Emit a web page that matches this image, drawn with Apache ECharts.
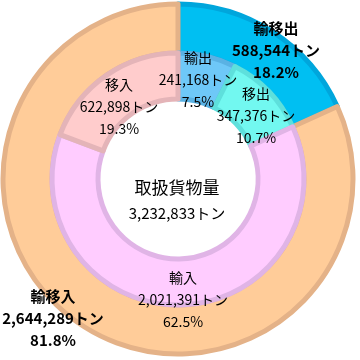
<!DOCTYPE html>
<html>
<head>
<meta charset="utf-8">
<script src="https://cdn.jsdelivr.net/npm/echarts@6/dist/echarts.min.js"></script>
<style>html,body{margin:0;padding:0;background:#fff;}#c{width:360px;height:360px;}</style>
</head>
<body>
<div id="c"></div>
<script>
var outerNames = ['輸移出', '輸移入'];
var outerValues = [588544, 2644289];
var outerPct = ['18.2%', '81.8%'];
var innerNames = ['輸出', '移出', '輸入', '移入'];
var innerValues = [241168, 347376, 2021391, 622898];
var innerPct = ['7.5%', '10.7%', '62.5%', '19.3%'];
var centerTitle = '取扱貨物量';
var totalValue = 3232833;
var unit = 'トン';

var FONT = '"Noto Sans CJK JP", "Noto Sans", sans-serif';
var outerColors = [['#00bff2', '#00a6dc'], ['#ffcc99', '#e4b288']];
var innerColors = [['#6ec8f8', '#5ab2e4'], ['#72f8f0', '#5ee0dc'], ['#ffccff', '#e0b4e6'], ['#ffcccc', '#e4b4b8']];
var outerLabelPos = [[276, 50], [53, 318]];
var innerLabelPos = [[198, 80], [256, 116], [183, 300], [119, 107]];

function fmt(v) { return v.toLocaleString('en-US'); }

var chart = echarts.init(document.getElementById('c'), null, {renderer: 'canvas'});
chart.setOption({
  animation: false,
  backgroundColor: '#ffffff',
  series: [
    {
      type: 'pie',
      center: [178, 179],
      radius: [126, 175],
      startAngle: 90,
      clockwise: true,
      avoidLabelOverlap: false,
      silent: true,
      data: outerNames.map(function (n, i) {
        return {name: n, value: outerValues[i],
          itemStyle: {color: outerColors[i][0], borderColor: outerColors[i][1], borderWidth: 5}};
      }),
      label: {
        show: true, position: 'inside', align: 'center', verticalAlign: 'middle',
        fontFamily: FONT, fontSize: 15, fontWeight: 'bold', color: '#000', lineHeight: 22,
        formatter: function (p) { return p.name + '\n' + fmt(p.value) + unit + '\n' + outerPct[p.dataIndex]; }
      },
      labelLine: {show: false},
      labelLayout: function (p) { return {x: outerLabelPos[p.dataIndex][0], y: outerLabelPos[p.dataIndex][1]}; }
    },
    {
      type: 'pie',
      center: [178, 179],
      radius: [80, 126],
      startAngle: 90,
      clockwise: true,
      avoidLabelOverlap: false,
      silent: true,
      data: innerNames.map(function (n, i) {
        return {name: n, value: innerValues[i],
          itemStyle: {color: innerColors[i][0], borderColor: innerColors[i][1], borderWidth: 5}};
      }),
      label: {
        show: true, position: 'inside', align: 'center', verticalAlign: 'middle',
        fontFamily: FONT, fontSize: 14, color: '#000', lineHeight: 22,
        formatter: function (p) { return p.name + '\n' + fmt(p.value) + unit + '\n' + innerPct[p.dataIndex]; }
      },
      labelLine: {show: false},
      labelLayout: function (p) { return {x: innerLabelPos[p.dataIndex][0], y: innerLabelPos[p.dataIndex][1]}; }
    }
  ],
  graphic: [
    {type: 'text', x: 177, y: 188, style: {
      text: centerTitle, font: '17px ' + FONT, fill: '#000', align: 'center', verticalAlign: 'middle'}},
    {type: 'text', x: 177, y: 213, style: {
      text: fmt(totalValue) + unit, font: '15px ' + FONT, fill: '#000', align: 'center', verticalAlign: 'middle'}}
  ]
});
</script>
</body>
</html>
